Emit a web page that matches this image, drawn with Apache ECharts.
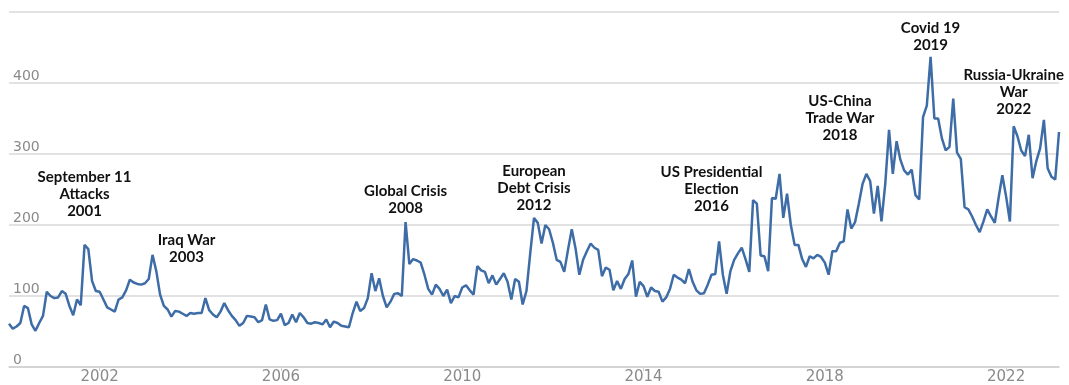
<!DOCTYPE html>
<html>
<head>
<meta charset="utf-8">
<title>Uncertainty index with events</title>
<script src="https://cdn.jsdelivr.net/npm/echarts@6/dist/echarts.min.js"></script>
<style>
  html, body { margin: 0; padding: 0; background: #fff; }
  #chart { width: 1069px; height: 385px; }
</style>
</head>
<body>
<div id="chart"></div>
<script>
// monthly index, Jan 2000 .. Mar 2023 (one row per year)
const indexValues = [
  61, 54, 57, 62, 86, 83, 60, 51, 62, 72, 106, 100,
  97, 98, 107, 103, 86, 73, 95, 87, 172, 166, 121, 107,
  106, 95, 84, 81, 78, 95, 98, 108, 123, 119, 117, 116,
  118, 124, 158, 135, 102, 86, 81, 71, 79, 78, 75, 72,
  76, 75, 76, 76, 97, 80, 74, 70, 78, 90, 80, 72,
  66, 58, 62, 72, 71, 70, 63, 66, 88, 67, 65, 66,
  75, 59, 62, 74, 63, 76, 70, 62, 61, 63, 62, 60,
  67, 56, 64, 62, 58, 57, 56, 76, 92, 79, 83, 97,
  132, 107, 125, 100, 84, 92, 103, 104, 100, 204, 145, 152,
  150, 147, 130, 110, 102, 116, 110, 100, 109, 90, 100, 98,
  112, 115, 108, 102, 142, 136, 134, 118, 129, 116, 124, 132,
  120, 95, 124, 120, 88, 107, 160, 210, 203, 174, 200, 194,
  175, 151, 148, 134, 165, 194, 167, 130, 151, 163, 174, 168,
  165, 128, 140, 137, 108, 121, 110, 124, 131, 150, 99, 120,
  114, 99, 112, 107, 106, 92, 98, 110, 130, 126, 123, 118,
  138, 120, 108, 103, 104, 116, 130, 131, 177, 130, 103, 135,
  151, 160, 168, 152, 134, 235, 230, 157, 156, 135, 238, 237,
  272, 210, 244, 200, 172, 172, 152, 141, 156, 153, 158, 155,
  147, 130, 163, 163, 175, 177, 222, 195, 204, 230, 258, 272,
  262, 216, 255, 205, 258, 334, 272, 318, 292, 277, 271, 278,
  242, 236, 352, 368, 437, 350, 350, 322, 305, 310, 378, 302,
  293, 225, 222, 212, 200, 190, 205, 222, 212, 203, 238, 270,
  240, 205, 339, 325, 305, 297, 327, 266, 290, 308, 348, 280,
  268, 264, 331
];

const startYear = 2000;
const tickYears = [2002, 2006, 2010, 2014, 2018, 2022];
const yTicks = [0, 100, 200, 300, 400, 500];

// event labels: text, anchor month, height on the value axis
const eventTexts = [
  "September 11\nAttacks\n2001",
  "Iraq War\n2003",
  "Global Crisis\n2008",
  "European\nDebt Crisis\n2012",
  "US Presidential\nElection\n2016",
  "US-China\nTrade War\n2018",
  "Covid 19\n2019",
  "Russia-Ukraine\nWar\n2022"
];
const eventMonths = ["2001-09", "2003-12", "2008-10", "2011-08", "2015-07", "2018-05", "2020-05", "2022-03"];
const eventLevels = [243, 166, 236, 252, 251, 350, 465, 387];

const months = indexValues.map((_, i) => {
  const y = startYear + Math.floor(i / 12);
  const m = (i % 12) + 1;
  return y + "-" + (m < 10 ? "0" + m : m);
});

function isTickMonth(index, value) {
  return value.slice(5) === "01" && tickYears.includes(+value.slice(0, 4));
}

const chart = echarts.init(document.getElementById("chart"));
chart.setOption({
  animation: false,
  grid: { left: 9, right: 10, top: 12, bottom: 15.5 },
  xAxis: {
    type: "category",
    data: months,
    boundaryGap: false,
    axisLine: { lineStyle: { color: "#cfcfcf", width: 1.5 } },
    axisTick: { interval: isTickMonth, length: 4, lineStyle: { color: "#cfcfcf" } },
    axisLabel: {
      interval: isTickMonth,
      formatter: (v) => v.slice(0, 4),
      color: "#8a8a8a",
      fontFamily: "DejaVu Sans",
      fontSize: 15,
      margin: 3
    },
    splitLine: { show: false }
  },
  yAxis: {
    type: "value",
    min: yTicks[0],
    max: yTicks[yTicks.length - 1],
    interval: 100,
    axisLine: { show: false },
    axisTick: { show: false },
    axisLabel: {
      inside: true,
      showMaxLabel: false,
      margin: 4,
      verticalAlign: "bottom",
      color: "#8a8a8a",
      fontFamily: "DejaVu Sans",
      fontSize: 14
    },
    splitLine: { lineStyle: { color: "#d9d9d9", width: 1.5 } }
  },
  series: [
    {
      type: "line",
      data: indexValues,
      symbol: "none",
      lineStyle: { color: "#3d6ca6", width: 2.5 },
      markPoint: {
        symbol: "circle",
        symbolSize: 1,
        itemStyle: { color: "transparent" },
        label: {
          show: true,
          position: "inside",
          color: "#111",
          fontFamily: "Lato",
          fontWeight: "bold",
          fontSize: 15,
          lineHeight: 17,
          align: "center",
          verticalAlign: "middle"
        },
        data: eventTexts.map((t, i) => ({
          coord: [eventMonths[i], eventLevels[i]],
          value: t,
          label: { formatter: t }
        }))
      }
    }
  ]
});
</script>
</body>
</html>
